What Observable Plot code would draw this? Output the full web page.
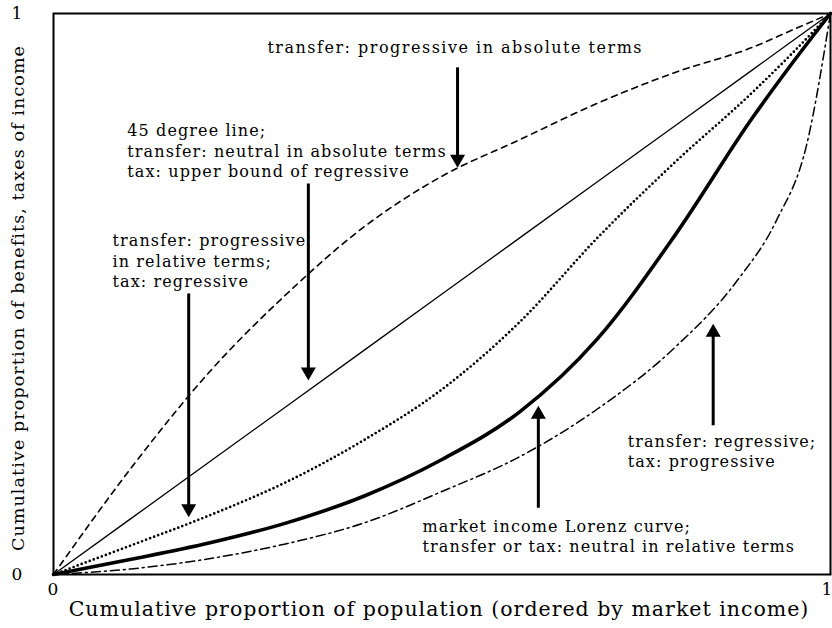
<!DOCTYPE html>
<html><head><meta charset="utf-8">
<script src="https://cdn.jsdelivr.net/npm/d3@7"></script>
<script src="https://cdn.jsdelivr.net/npm/@observablehq/plot@0.6"></script>
<style>body{margin:0;background:#fff}</style>
</head><body><div id="chart"></div>
<script>
// Cumulative population share (x) shared by most curves
const share = [0, 0.1, 0.2, 0.3, 0.4, 0.5, 0.6, 0.7, 0.8, 0.9, 0.95, 1];
// 45 degree line
const neutralAbsolute = [0, 0.1, 0.2, 0.3, 0.4, 0.5, 0.6, 0.7, 0.8, 0.9, 0.95, 1];
// dashed: transfer progressive in absolute terms
const progressiveAbsolute = [0, 0.19, 0.36, 0.50, 0.62, 0.71, 0.775, 0.84, 0.895, 0.94, 0.97, 1];
// dotted: transfer progressive in relative terms
const progressiveRelative = [0, 0.052, 0.105, 0.165, 0.24, 0.33, 0.45, 0.60, 0.735, 0.86, 0.928, 1];
// thick: market income Lorenz curve
const lorenz = [0, 0.027, 0.056, 0.092, 0.14, 0.205, 0.29, 0.42, 0.605, 0.815, 0.91, 1];
// dash-dot: transfer regressive / tax progressive (own x grid)
const regressiveShare = [0, 0.1, 0.2, 0.3, 0.4, 0.5, 0.6, 0.7, 0.8, 0.88, 0.93, 0.97, 1];
const regressive = [0, 0.01, 0.028, 0.055, 0.092, 0.148, 0.21, 0.295, 0.405, 0.524, 0.63, 0.77, 1];

// arrows (x, start y, tip y)
const arrowX = [0.52, 0.328, 0.174, 0.624, 0.849];
const arrowFrom = [0.904, 0.697, 0.501, 0.119, 0.266];
const arrowTo = [0.725, 0.346, 0.102, 0.301, 0.447];

// annotations
const noteTitle = "transfer: progressive in absolute terms";
const noteTitleX = [0.517];
const noteTitleY = [0.939];
const notes = [
  "45 degree line;\ntransfer: neutral in absolute terms\ntax: upper bound of regressive",
  "transfer: progressive\nin relative terms;\ntax: regressive",
  "market income Lorenz curve;\ntransfer or tax: neutral in relative terms",
  "transfer: regressive;\ntax: progressive"
];
const noteX = [0.095, 0.076, 0.475, 0.739];
const noteY = [0.756, 0.560, 0.0695, 0.221];

const xTicks = [0, 1];
const yTicks = [0, 1];
const xTitle = "Cumulative proportion of population (ordered by market income)";
const yTitle = "Cumulative proportion of benefits, taxes of income";

const rows = share.map((x, i) => ({
  x, diag: neutralAbsolute[i], abs: progressiveAbsolute[i], rel: progressiveRelative[i], lorenz: lorenz[i]
}));
const regRows = regressiveShare.map((x, i) => ({x, y: regressive[i]}));
const arrows = arrowX.map((x, i) => ({x, from: arrowFrom[i], to: arrowTo[i], down: arrowTo[i] < arrowFrom[i]}));
const noteRows = notes.map((t, i) => ({text: t, x: noteX[i], y: noteY[i]}));
const titleRows = noteTitleX.map((x, i) => ({text: noteTitle, x, y: noteTitleY[i]}));

const headDown = {draw(ctx) { ctx.moveTo(0, 0); ctx.lineTo(-7.5, -13); ctx.lineTo(7.5, -13); ctx.closePath(); }};
const headUp = {draw(ctx) { ctx.moveTo(0, 0); ctx.lineTo(-7.5, 13); ctx.lineTo(7.5, 13); ctx.closePath(); }};

const font = "'DejaVu Serif', serif";

const chart = Plot.plot({
  width: 832,
  height: 628,
  marginLeft: 53,
  marginRight: 2,
  marginTop: 13,
  marginBottom: 54,
  style: {fontFamily: font, fontSize: "16px", color: "black", background: "white", letterSpacing: "1.1px"},
  x: {domain: [0, 1]},
  y: {domain: [0, 1]},
  marks: [
    Plot.axisX({ticks: [xTicks[0]], tickSize: 0, tickPadding: 8, fontSize: 17, label: null, tickFormat: d => String(d)}),
    Plot.axisX({ticks: [xTicks[1]], tickSize: 0, tickPadding: 8, fontSize: 17, label: null, dx: -3, tickFormat: d => String(d)}),
    Plot.axisY({ticks: yTicks, tickSize: 0, tickPadding: 30, fontSize: 17, label: null, tickFormat: d => String(d)}),
    Plot.text([xTitle], {text: d => d, frameAnchor: "bottom", textAnchor: "middle", dx: -3, dy: 41, fontSize: 20.5, fill: "black"}),
    Plot.text([yTitle], {text: d => d, frameAnchor: "left", textAnchor: "middle", rotate: -90, dx: -35, dy: 4, fontSize: 17.5, fill: "black"}),
    Plot.line(rows, {x: "x", y: "diag", stroke: "black", strokeWidth: 1.3}),
    Plot.line(rows, {x: "x", y: "abs", stroke: "black", strokeWidth: 1.6, strokeDasharray: "6,5", curve: "monotone-x"}),
    Plot.line(rows, {x: "x", y: "rel", stroke: "black", strokeWidth: 2.7, strokeDasharray: "0,4.3", strokeLinecap: "round", curve: "monotone-x"}),
    Plot.line(rows, {x: "x", y: "lorenz", stroke: "black", strokeWidth: 3.6, curve: "monotone-x"}),
    Plot.line(regRows, {x: "x", y: "y", stroke: "black", strokeWidth: 1.5, strokeDasharray: "9,4,2,4", curve: "monotone-x"}),
    Plot.link(arrows, {x1: "x", x2: "x", y1: "from", y2: d => d.to + (d.down ? 0.015 : -0.015), stroke: "black", strokeWidth: 3}),
    Plot.dot(arrows.filter(d => d.down), {x: "x", y: "to", symbol: headDown, fill: "black", stroke: "none"}),
    Plot.dot(arrows.filter(d => !d.down), {x: "x", y: "to", symbol: headUp, fill: "black", stroke: "none"}),
    Plot.text(titleRows, {x: "x", y: "y", text: "text", textAnchor: "middle", fontSize: 16, fill: "black"}),
    Plot.text(noteRows, {x: "x", y: "y", text: "text", textAnchor: "start", lineAnchor: "middle", lineHeight: 1.28, fontSize: 16, fill: "black"}),
    Plot.frame({stroke: "black", strokeWidth: 2})
  ]
});
d3.select(chart).selectAll("text").filter(function() { return this.textContent === noteTitle; }).attr("letter-spacing", "1.5px");
d3.select(chart).selectAll("text").filter(function() { return this.textContent === xTitle; }).attr("letter-spacing", "1px");
document.getElementById("chart").appendChild(chart);
</script>
</body></html>
